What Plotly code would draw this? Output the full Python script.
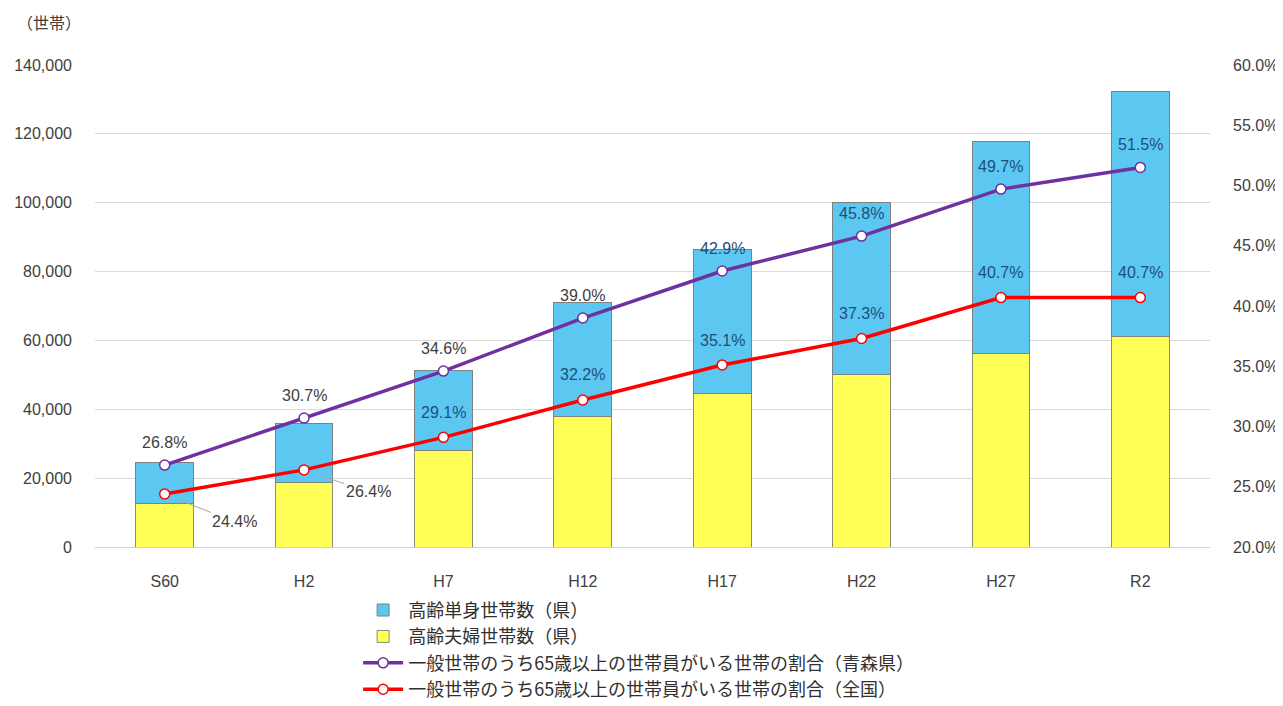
import plotly.graph_objects as go

categories = ["S60", "H2", "H7", "H12", "H17", "H22", "H27", "R2"]
couple_households = [12500, 18600, 27900, 37800, 44700, 50000, 56300, 61000]
single_households = [11900, 17400, 23500, 33100, 41800, 50200, 61600, 71400]
aomori_ratio = [26.8, 30.7, 34.6, 39.0, 42.9, 45.8, 49.7, 51.5]
national_ratio = [24.4, 26.4, 29.1, 32.2, 35.1, 37.3, 40.7, 40.7]

left_ticks = [0, 20000, 40000, 60000, 80000, 100000, 120000, 140000]
right_ticks = [20, 25, 30, 35, 40, 45, 50, 55, 60]

FONT = "Liberation Sans, Noto Sans CJK JP, sans-serif"
JFONT = "Noto Sans CJK JP, sans-serif"
PURPLE = "#7030A0"
RED = "#FF0000"
GRAY_TXT = "#404040"
IN_TXT = "#1F4E79"

fig = go.Figure()
fig.add_trace(go.Bar(x=categories, y=couple_households, name="高齢夫婦世帯数（県）",
                     marker=dict(color="#FFFF55", line=dict(color="#8C8C70", width=1)),
                     legendrank=2))
fig.add_trace(go.Bar(x=categories, y=single_households, name="高齢単身世帯数（県）",
                     marker=dict(color="#5CC8F2", line=dict(color="#808080", width=1)),
                     legendrank=1))
fig.add_trace(go.Scatter(x=categories, y=aomori_ratio, yaxis="y2", mode="lines+markers",
                         name="一般世帯のうち65歳以上の世帯員がいる世帯の割合（青森県）",
                         line=dict(color=PURPLE, width=3.5),
                         marker=dict(size=10, color="white", line=dict(color=PURPLE, width=1.5)),
                         legendrank=3))
fig.add_trace(go.Scatter(x=categories, y=national_ratio, yaxis="y2", mode="lines+markers",
                         name="一般世帯のうち65歳以上の世帯員がいる世帯の割合（全国）",
                         line=dict(color=RED, width=3.5),
                         marker=dict(size=10, color="white", line=dict(color=RED, width=1.5)),
                         legendrank=4))

LBL = 16
annotations = []
for i, (c, v) in enumerate(zip(categories, aomori_ratio)):
    col = GRAY_TXT if i < 4 else IN_TXT
    annotations.append(dict(x=c, y=v, xref="x", yref="y2", text=f"{v:.1f}%",
                            showarrow=False, yshift=23,
                            font=dict(family=FONT, size=LBL, color=col)))
for i, (c, v) in enumerate(zip(categories, national_ratio)):
    if i == 0:
        annotations.append(dict(x=c, y=v, xref="x", yref="y2", text=f"{v:.1f}%",
                                showarrow=True, arrowhead=0, arrowwidth=1, arrowcolor="#A8A890",
                                ax=70, ay=28, standoff=14, xanchor="center",
                                font=dict(family=FONT, size=LBL, color=GRAY_TXT)))
    elif i == 1:
        annotations.append(dict(x=c, y=v, xref="x", yref="y2", text=f"{v:.1f}%",
                                showarrow=True, arrowhead=0, arrowwidth=1, arrowcolor="#A8A890",
                                ax=64, ay=22, standoff=14, xanchor="center",
                                font=dict(family=FONT, size=LBL, color=GRAY_TXT)))
    else:
        annotations.append(dict(x=c, y=v, xref="x", yref="y2", text=f"{v:.1f}%",
                                showarrow=False, yshift=25,
                                font=dict(family=FONT, size=LBL, color=IN_TXT)))
annotations.append(dict(x=-0.041, y=1.089, xref="paper", yref="paper", text="（世帯）",
                        showarrow=False, xanchor="center", yanchor="middle",
                        font=dict(family=JFONT, size=16, color=GRAY_TXT)))

fig.update_layout(
    width=1275, height=698,
    margin=dict(l=87, r=73, t=57, b=159, autoexpand=False),
    paper_bgcolor="white", plot_bgcolor="white",
    barmode="stack", bargap=0.585,
    font=dict(family=FONT, size=16, color=GRAY_TXT),
    showlegend=True,
    legend=dict(x=0.236, y=-0.093, xanchor="left", yanchor="top", orientation="v",
                traceorder="normal", font=dict(family=JFONT, size=18, color="#303030"),
                itemwidth=40, tracegroupgap=0, bgcolor="rgba(0,0,0,0)"),
    xaxis=dict(showgrid=False, showline=True, linecolor="#D0D0D0", ticks="",
               ticklabelstandoff=20, automargin=False,
               tickfont=dict(family=FONT, size=16, color=GRAY_TXT)),
    yaxis=dict(range=[0, 140000], tickvals=left_ticks, tickformat=",d",
               showgrid=True, gridcolor="#D9D9D9", zeroline=False, ticks="",
               ticklabelstandoff=22, automargin=False,
               tickfont=dict(family=FONT, size=16, color=GRAY_TXT)),
    yaxis2=dict(range=[20, 60], tickvals=right_ticks,
                ticktext=[f"{t:.1f}%" for t in right_ticks],
                overlaying="y", side="right", showgrid=False, zeroline=False, ticks="",
                ticklabelstandoff=22, automargin=False,
                tickfont=dict(family=FONT, size=16, color=GRAY_TXT)),
    annotations=annotations,
)

fig.write_html("out.html")
